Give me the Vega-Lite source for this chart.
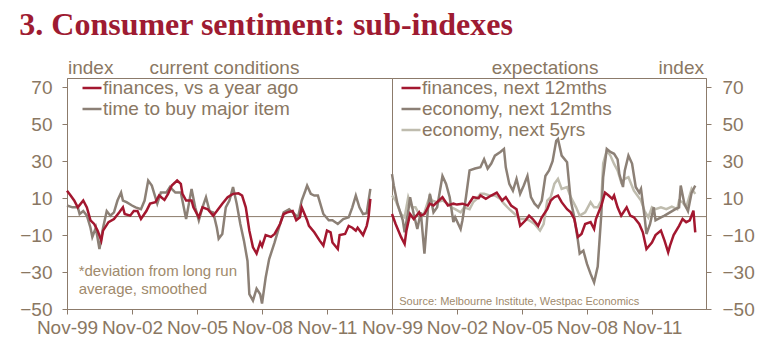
{
  "$schema": "https://vega.github.io/schema/vega-lite/v6.json",
  "padding": {"left": 19, "top": 9, "right": 5, "bottom": 5},
  "background": "white",
  "title": {"text": "3. Consumer sentiment: sub-indexes", "anchor": "start", "font": "Liberation Serif", "fontSize": 32, "fontWeight": "bold", "color": "#9e1b32", "offset": 16},
  "config": {
    "view": {"stroke": "#8c7b6b", "strokeWidth": 1},
    "font": "Liberation Sans",
    "axis": {"grid": false, "domainColor": "#8c7b6b", "tickColor": "#8c7b6b", "labelColor": "#8a7762", "labelFontSize": 19, "labelFont": "Liberation Sans", "tickSize": 5, "labelOverlap": false, "labelFlush": false, "labelBound": false},
    "legend": {"labelFont": "Liberation Sans"},
    "text": {"font": "Liberation Sans"}
  },
  "datasets": {
    "left": [
      {"d":"1999-11","s":"time to buy major item","v":6},{"d":"2000-02","s":"time to buy major item","v":5},{"d":"2000-05","s":"time to buy major item","v":5},{"d":"2000-06","s":"time to buy major item","v":1.4},{"d":"2000-08","s":"time to buy major item","v":3},{"d":"2000-10","s":"time to buy major item","v":0.5},{"d":"2000-12","s":"time to buy major item","v":-6},{"d":"2001-01","s":"time to buy major item","v":-11},{"d":"2001-03","s":"time to buy major item","v":-6},{"d":"2001-05","s":"time to buy major item","v":-17.5},{"d":"2001-07","s":"time to buy major item","v":-6},{"d":"2001-09","s":"time to buy major item","v":3},{"d":"2001-11","s":"time to buy major item","v":0.5},{"d":"2002-01","s":"time to buy major item","v":2.3},{"d":"2002-03","s":"time to buy major item","v":8.7},{"d":"2002-05","s":"time to buy major item","v":13},{"d":"2002-06","s":"time to buy major item","v":8.7},{"d":"2002-08","s":"time to buy major item","v":7.8},{"d":"2002-11","s":"time to buy major item","v":6},{"d":"2003-01","s":"time to buy major item","v":5},{"d":"2003-04","s":"time to buy major item","v":4},{"d":"2003-06","s":"time to buy major item","v":8.7},{"d":"2003-08","s":"time to buy major item","v":19.5},{"d":"2003-10","s":"time to buy major item","v":16.8},{"d":"2004-01","s":"time to buy major item","v":7},{"d":"2004-03","s":"time to buy major item","v":13},{"d":"2004-06","s":"time to buy major item","v":13},{"d":"2004-08","s":"time to buy major item","v":16},{"d":"2004-11","s":"time to buy major item","v":13},{"d":"2005-02","s":"time to buy major item","v":13},{"d":"2005-05","s":"time to buy major item","v":-1.3},{"d":"2005-08","s":"time to buy major item","v":15},{"d":"2005-10","s":"time to buy major item","v":5},{"d":"2005-12","s":"time to buy major item","v":-2},{"d":"2006-02","s":"time to buy major item","v":5},{"d":"2006-04","s":"time to buy major item","v":10.5},{"d":"2006-06","s":"time to buy major item","v":3},{"d":"2006-08","s":"time to buy major item","v":2.3},{"d":"2006-10","s":"time to buy major item","v":-6},{"d":"2006-11","s":"time to buy major item","v":-12},{"d":"2007-01","s":"time to buy major item","v":-9.4},{"d":"2007-03","s":"time to buy major item","v":5},{"d":"2007-05","s":"time to buy major item","v":8.7},{"d":"2007-07","s":"time to buy major item","v":16},{"d":"2007-09","s":"time to buy major item","v":7},{"d":"2007-11","s":"time to buy major item","v":-4},{"d":"2008-01","s":"time to buy major item","v":-13},{"d":"2008-03","s":"time to buy major item","v":-24},{"d":"2008-04","s":"time to buy major item","v":-42},{"d":"2008-06","s":"time to buy major item","v":-45.5},{"d":"2008-08","s":"time to buy major item","v":-39},{"d":"2008-10","s":"time to buy major item","v":-42},{"d":"2008-11","s":"time to buy major item","v":-47},{"d":"2009-01","s":"time to buy major item","v":-33},{"d":"2009-03","s":"time to buy major item","v":-23},{"d":"2009-06","s":"time to buy major item","v":-14},{"d":"2009-09","s":"time to buy major item","v":-4},{"d":"2009-11","s":"time to buy major item","v":2.3},{"d":"2010-02","s":"time to buy major item","v":4},{"d":"2010-05","s":"time to buy major item","v":1.4},{"d":"2010-07","s":"time to buy major item","v":-0.4},{"d":"2010-09","s":"time to buy major item","v":8.7},{"d":"2010-11","s":"time to buy major item","v":14},{"d":"2010-12","s":"time to buy major item","v":16.8},{"d":"2011-02","s":"time to buy major item","v":12.3},{"d":"2011-04","s":"time to buy major item","v":11.4},{"d":"2011-06","s":"time to buy major item","v":11.4},{"d":"2011-09","s":"time to buy major item","v":1.4},{"d":"2011-12","s":"time to buy major item","v":-2},{"d":"2012-02","s":"time to buy major item","v":-2},{"d":"2012-05","s":"time to buy major item","v":-4},{"d":"2012-08","s":"time to buy major item","v":-1.3},{"d":"2012-11","s":"time to buy major item","v":-0.4},{"d":"2013-01","s":"time to buy major item","v":5},{"d":"2013-03","s":"time to buy major item","v":11.4},{"d":"2013-05","s":"time to buy major item","v":5},{"d":"2013-07","s":"time to buy major item","v":1.4},{"d":"2013-09","s":"time to buy major item","v":1.8},{"d":"2013-11","s":"time to buy major item","v":15},
      {"d":"1999-11","s":"finances, vs a year ago","v":14},{"d":"2000-01","s":"finances, vs a year ago","v":11.4},{"d":"2000-03","s":"finances, vs a year ago","v":8.7},{"d":"2000-05","s":"finances, vs a year ago","v":5},{"d":"2000-08","s":"finances, vs a year ago","v":8.7},{"d":"2000-10","s":"finances, vs a year ago","v":5},{"d":"2000-12","s":"finances, vs a year ago","v":-2},{"d":"2001-02","s":"finances, vs a year ago","v":-4},{"d":"2001-04","s":"finances, vs a year ago","v":-7.6},{"d":"2001-06","s":"finances, vs a year ago","v":-13},{"d":"2001-07","s":"finances, vs a year ago","v":-7.6},{"d":"2001-10","s":"finances, vs a year ago","v":-3},{"d":"2002-01","s":"finances, vs a year ago","v":-1.3},{"d":"2002-04","s":"finances, vs a year ago","v":2.3},{"d":"2002-06","s":"finances, vs a year ago","v":5},{"d":"2002-07","s":"finances, vs a year ago","v":1.4},{"d":"2002-10","s":"finances, vs a year ago","v":0.5},{"d":"2002-12","s":"finances, vs a year ago","v":3},{"d":"2003-02","s":"finances, vs a year ago","v":3},{"d":"2003-04","s":"finances, vs a year ago","v":-1.3},{"d":"2003-07","s":"finances, vs a year ago","v":3},{"d":"2003-09","s":"finances, vs a year ago","v":7},{"d":"2003-12","s":"finances, vs a year ago","v":7.8},{"d":"2004-02","s":"finances, vs a year ago","v":11.4},{"d":"2004-05","s":"finances, vs a year ago","v":9},{"d":"2004-07","s":"finances, vs a year ago","v":12.3},{"d":"2004-09","s":"finances, vs a year ago","v":16.8},{"d":"2004-12","s":"finances, vs a year ago","v":19.5},{"d":"2005-02","s":"finances, vs a year ago","v":17.7},{"d":"2005-03","s":"finances, vs a year ago","v":12.3},{"d":"2005-05","s":"finances, vs a year ago","v":8.7},{"d":"2005-08","s":"finances, vs a year ago","v":8.7},{"d":"2005-09","s":"finances, vs a year ago","v":5},{"d":"2005-12","s":"finances, vs a year ago","v":-0.4},{"d":"2006-02","s":"finances, vs a year ago","v":5},{"d":"2006-05","s":"finances, vs a year ago","v":4},{"d":"2006-08","s":"finances, vs a year ago","v":0.5},{"d":"2006-10","s":"finances, vs a year ago","v":3},{"d":"2007-01","s":"finances, vs a year ago","v":7},{"d":"2007-04","s":"finances, vs a year ago","v":10.5},{"d":"2007-07","s":"finances, vs a year ago","v":12.3},{"d":"2007-10","s":"finances, vs a year ago","v":12.6},{"d":"2007-12","s":"finances, vs a year ago","v":11.4},{"d":"2008-02","s":"finances, vs a year ago","v":5},{"d":"2008-04","s":"finances, vs a year ago","v":-7.6},{"d":"2008-06","s":"finances, vs a year ago","v":-16.6},{"d":"2008-08","s":"finances, vs a year ago","v":-20},{"d":"2008-10","s":"finances, vs a year ago","v":-14},{"d":"2008-11","s":"finances, vs a year ago","v":-16},{"d":"2009-01","s":"finances, vs a year ago","v":-10},{"d":"2009-04","s":"finances, vs a year ago","v":-11},{"d":"2009-06","s":"finances, vs a year ago","v":-9.4},{"d":"2009-09","s":"finances, vs a year ago","v":-4},{"d":"2009-11","s":"finances, vs a year ago","v":1.4},{"d":"2010-01","s":"finances, vs a year ago","v":2.3},{"d":"2010-04","s":"finances, vs a year ago","v":3},{"d":"2010-06","s":"finances, vs a year ago","v":-2},{"d":"2010-08","s":"finances, vs a year ago","v":-0.4},{"d":"2010-09","s":"finances, vs a year ago","v":5},{"d":"2010-12","s":"finances, vs a year ago","v":-2},{"d":"2011-01","s":"finances, vs a year ago","v":-5},{"d":"2011-04","s":"finances, vs a year ago","v":-8.5},{"d":"2011-07","s":"finances, vs a year ago","v":-13},{"d":"2011-09","s":"finances, vs a year ago","v":-15.7},{"d":"2011-11","s":"finances, vs a year ago","v":-7.6},{"d":"2012-01","s":"finances, vs a year ago","v":-8.5},{"d":"2012-02","s":"finances, vs a year ago","v":-14},{"d":"2012-05","s":"finances, vs a year ago","v":-17.5},{"d":"2012-06","s":"finances, vs a year ago","v":-10},{"d":"2012-09","s":"finances, vs a year ago","v":-9.4},{"d":"2012-11","s":"finances, vs a year ago","v":-5},{"d":"2013-01","s":"finances, vs a year ago","v":-6},{"d":"2013-03","s":"finances, vs a year ago","v":-7.6},{"d":"2013-04","s":"finances, vs a year ago","v":-6},{"d":"2013-07","s":"finances, vs a year ago","v":-10},{"d":"2013-09","s":"finances, vs a year ago","v":-5},{"d":"2013-10","s":"finances, vs a year ago","v":-0.4},{"d":"2013-11","s":"finances, vs a year ago","v":9.6}
    ],
    "right": [
      {"d":"1999-11","s":"economy, next 5yrs","v":11.4},{"d":"2000-01","s":"economy, next 5yrs","v":8.7},{"d":"2000-04","s":"economy, next 5yrs","v":1.4},{"d":"2000-06","s":"economy, next 5yrs","v":-0.4},{"d":"2000-08","s":"economy, next 5yrs","v":10.5},{"d":"2000-10","s":"economy, next 5yrs","v":5},{"d":"2000-12","s":"economy, next 5yrs","v":5},{"d":"2001-03","s":"economy, next 5yrs","v":-0.4},{"d":"2001-05","s":"economy, next 5yrs","v":2.3},{"d":"2001-08","s":"economy, next 5yrs","v":11.4},{"d":"2001-09","s":"economy, next 5yrs","v":8.7},{"d":"2001-12","s":"economy, next 5yrs","v":7.8},{"d":"2002-03","s":"economy, next 5yrs","v":8.7},{"d":"2002-06","s":"economy, next 5yrs","v":7},{"d":"2002-08","s":"economy, next 5yrs","v":5},{"d":"2002-10","s":"economy, next 5yrs","v":4},{"d":"2003-01","s":"economy, next 5yrs","v":2.3},{"d":"2003-03","s":"economy, next 5yrs","v":5},{"d":"2003-06","s":"economy, next 5yrs","v":4},{"d":"2003-08","s":"economy, next 5yrs","v":7.8},{"d":"2003-10","s":"economy, next 5yrs","v":9.6},{"d":"2003-12","s":"economy, next 5yrs","v":12.3},{"d":"2004-02","s":"economy, next 5yrs","v":12.3},{"d":"2004-05","s":"economy, next 5yrs","v":11.4},{"d":"2004-08","s":"economy, next 5yrs","v":11.4},{"d":"2004-11","s":"economy, next 5yrs","v":9.6},{"d":"2005-01","s":"economy, next 5yrs","v":7},{"d":"2005-04","s":"economy, next 5yrs","v":4},{"d":"2005-07","s":"economy, next 5yrs","v":1.4},{"d":"2005-10","s":"economy, next 5yrs","v":-1.3},{"d":"2006-01","s":"economy, next 5yrs","v":-1.3},{"d":"2006-03","s":"economy, next 5yrs","v":-2},{"d":"2006-06","s":"economy, next 5yrs","v":-4},{"d":"2006-09","s":"economy, next 5yrs","v":-7.6},{"d":"2006-11","s":"economy, next 5yrs","v":-4},{"d":"2007-01","s":"economy, next 5yrs","v":8.7},{"d":"2007-03","s":"economy, next 5yrs","v":10.5},{"d":"2007-05","s":"economy, next 5yrs","v":17.7},{"d":"2007-07","s":"economy, next 5yrs","v":20.4},{"d":"2007-09","s":"economy, next 5yrs","v":15},{"d":"2007-12","s":"economy, next 5yrs","v":16},{"d":"2008-02","s":"economy, next 5yrs","v":10.5},{"d":"2008-05","s":"economy, next 5yrs","v":5},{"d":"2008-07","s":"economy, next 5yrs","v":0.5},{"d":"2008-10","s":"economy, next 5yrs","v":2.3},{"d":"2009-01","s":"economy, next 5yrs","v":7.8},{"d":"2009-03","s":"economy, next 5yrs","v":5},{"d":"2009-05","s":"economy, next 5yrs","v":5},{"d":"2009-07","s":"economy, next 5yrs","v":8.7},{"d":"2009-08","s":"economy, next 5yrs","v":28.7},{"d":"2009-10","s":"economy, next 5yrs","v":35.7},{"d":"2009-12","s":"economy, next 5yrs","v":33},{"d":"2010-02","s":"economy, next 5yrs","v":28.5},{"d":"2010-04","s":"economy, next 5yrs","v":25},{"d":"2010-06","s":"economy, next 5yrs","v":18.6},{"d":"2010-08","s":"economy, next 5yrs","v":20.4},{"d":"2010-10","s":"economy, next 5yrs","v":21.3},{"d":"2011-01","s":"economy, next 5yrs","v":14},{"d":"2011-03","s":"economy, next 5yrs","v":11.4},{"d":"2011-05","s":"economy, next 5yrs","v":8.7},{"d":"2011-07","s":"economy, next 5yrs","v":3},{"d":"2011-09","s":"economy, next 5yrs","v":-0.4},{"d":"2011-11","s":"economy, next 5yrs","v":5},{"d":"2012-01","s":"economy, next 5yrs","v":4},{"d":"2012-04","s":"economy, next 5yrs","v":5},{"d":"2012-07","s":"economy, next 5yrs","v":4},{"d":"2012-10","s":"economy, next 5yrs","v":5.4},{"d":"2013-01","s":"economy, next 5yrs","v":4},{"d":"2013-02","s":"economy, next 5yrs","v":8.7},{"d":"2013-04","s":"economy, next 5yrs","v":7.8},{"d":"2013-06","s":"economy, next 5yrs","v":5},{"d":"2013-09","s":"economy, next 5yrs","v":15},{"d":"2013-11","s":"economy, next 5yrs","v":12.3},
      {"d":"1999-11","s":"economy, next 12mths","v":23},{"d":"1999-12","s":"economy, next 12mths","v":16.8},{"d":"2000-02","s":"economy, next 12mths","v":7},{"d":"2000-05","s":"economy, next 12mths","v":-2},{"d":"2000-06","s":"economy, next 12mths","v":-8.5},{"d":"2000-08","s":"economy, next 12mths","v":3},{"d":"2000-09","s":"economy, next 12mths","v":10.5},{"d":"2000-11","s":"economy, next 12mths","v":1.4},{"d":"2001-01","s":"economy, next 12mths","v":-6.7},{"d":"2001-03","s":"economy, next 12mths","v":2.3},{"d":"2001-05","s":"economy, next 12mths","v":-20},{"d":"2001-07","s":"economy, next 12mths","v":5},{"d":"2001-08","s":"economy, next 12mths","v":12.3},{"d":"2001-10","s":"economy, next 12mths","v":2.3},{"d":"2001-12","s":"economy, next 12mths","v":5},{"d":"2002-03","s":"economy, next 12mths","v":22},{"d":"2002-05","s":"economy, next 12mths","v":17.7},{"d":"2002-07","s":"economy, next 12mths","v":10.5},{"d":"2002-09","s":"economy, next 12mths","v":-3},{"d":"2002-10","s":"economy, next 12mths","v":-0.4},{"d":"2003-01","s":"economy, next 12mths","v":-6.7},{"d":"2003-02","s":"economy, next 12mths","v":-2},{"d":"2003-04","s":"economy, next 12mths","v":10.5},{"d":"2003-06","s":"economy, next 12mths","v":25},{"d":"2003-09","s":"economy, next 12mths","v":26},{"d":"2003-12","s":"economy, next 12mths","v":26.7},{"d":"2004-02","s":"economy, next 12mths","v":31},{"d":"2004-04","s":"economy, next 12mths","v":26},{"d":"2004-06","s":"economy, next 12mths","v":28.7},{"d":"2004-08","s":"economy, next 12mths","v":33},{"d":"2004-11","s":"economy, next 12mths","v":35},{"d":"2005-01","s":"economy, next 12mths","v":36.6},{"d":"2005-02","s":"economy, next 12mths","v":26.7},{"d":"2005-04","s":"economy, next 12mths","v":17.7},{"d":"2005-06","s":"economy, next 12mths","v":14},{"d":"2005-08","s":"economy, next 12mths","v":20.4},{"d":"2005-10","s":"economy, next 12mths","v":12.3},{"d":"2005-12","s":"economy, next 12mths","v":16.8},{"d":"2006-02","s":"economy, next 12mths","v":22},{"d":"2006-04","s":"economy, next 12mths","v":10.5},{"d":"2006-06","s":"economy, next 12mths","v":7},{"d":"2006-08","s":"economy, next 12mths","v":5},{"d":"2006-10","s":"economy, next 12mths","v":8.7},{"d":"2006-12","s":"economy, next 12mths","v":22},{"d":"2007-02","s":"economy, next 12mths","v":25},{"d":"2007-04","s":"economy, next 12mths","v":30},{"d":"2007-06","s":"economy, next 12mths","v":41},{"d":"2007-07","s":"economy, next 12mths","v":42},{"d":"2007-09","s":"economy, next 12mths","v":33},{"d":"2007-12","s":"economy, next 12mths","v":29.4},{"d":"2008-02","s":"economy, next 12mths","v":8.7},{"d":"2008-04","s":"economy, next 12mths","v":-0.4},{"d":"2008-06","s":"economy, next 12mths","v":-13},{"d":"2008-07","s":"economy, next 12mths","v":-20},{"d":"2008-09","s":"economy, next 12mths","v":-18.4},{"d":"2008-11","s":"economy, next 12mths","v":-25.6},{"d":"2009-01","s":"economy, next 12mths","v":-31},{"d":"2009-03","s":"economy, next 12mths","v":-35.6},{"d":"2009-05","s":"economy, next 12mths","v":-27},{"d":"2009-07","s":"economy, next 12mths","v":1.4},{"d":"2009-08","s":"economy, next 12mths","v":21.3},{"d":"2009-10","s":"economy, next 12mths","v":36.6},{"d":"2009-12","s":"economy, next 12mths","v":35},{"d":"2010-02","s":"economy, next 12mths","v":34},{"d":"2010-04","s":"economy, next 12mths","v":31},{"d":"2010-05","s":"economy, next 12mths","v":23},{"d":"2010-07","s":"economy, next 12mths","v":16},{"d":"2010-08","s":"economy, next 12mths","v":25},{"d":"2010-10","s":"economy, next 12mths","v":33},{"d":"2010-12","s":"economy, next 12mths","v":28.7},{"d":"2011-02","s":"economy, next 12mths","v":16},{"d":"2011-04","s":"economy, next 12mths","v":13},{"d":"2011-05","s":"economy, next 12mths","v":15},{"d":"2011-07","s":"economy, next 12mths","v":-0.4},{"d":"2011-08","s":"economy, next 12mths","v":-9.4},{"d":"2011-10","s":"economy, next 12mths","v":-4},{"d":"2011-12","s":"economy, next 12mths","v":5},{"d":"2012-01","s":"economy, next 12mths","v":-2},{"d":"2012-04","s":"economy, next 12mths","v":-0.4},{"d":"2012-06","s":"economy, next 12mths","v":0.5},{"d":"2012-09","s":"economy, next 12mths","v":2.3},{"d":"2012-12","s":"economy, next 12mths","v":4},{"d":"2013-02","s":"economy, next 12mths","v":5},{"d":"2013-03","s":"economy, next 12mths","v":16.8},{"d":"2013-05","s":"economy, next 12mths","v":7},{"d":"2013-07","s":"economy, next 12mths","v":3},{"d":"2013-09","s":"economy, next 12mths","v":13},{"d":"2013-11","s":"economy, next 12mths","v":16.8},
      {"d":"1999-11","s":"finances, next 12mths","v":1.4},{"d":"2000-01","s":"finances, next 12mths","v":-4},{"d":"2000-04","s":"finances, next 12mths","v":-11},{"d":"2000-06","s":"finances, next 12mths","v":-14.8},{"d":"2000-07","s":"finances, next 12mths","v":-7.6},{"d":"2000-09","s":"finances, next 12mths","v":1.4},{"d":"2000-11","s":"finances, next 12mths","v":-1.3},{"d":"2001-02","s":"finances, next 12mths","v":2.3},{"d":"2001-03","s":"finances, next 12mths","v":0.5},{"d":"2001-05","s":"finances, next 12mths","v":1.4},{"d":"2001-08","s":"finances, next 12mths","v":7},{"d":"2001-10","s":"finances, next 12mths","v":6},{"d":"2002-01","s":"finances, next 12mths","v":8.7},{"d":"2002-03","s":"finances, next 12mths","v":10.5},{"d":"2002-06","s":"finances, next 12mths","v":6},{"d":"2002-09","s":"finances, next 12mths","v":7},{"d":"2002-11","s":"finances, next 12mths","v":6.5},{"d":"2003-02","s":"finances, next 12mths","v":7},{"d":"2003-05","s":"finances, next 12mths","v":6},{"d":"2003-08","s":"finances, next 12mths","v":10.5},{"d":"2003-11","s":"finances, next 12mths","v":10},{"d":"2003-12","s":"finances, next 12mths","v":11.4},{"d":"2004-03","s":"finances, next 12mths","v":9.6},{"d":"2004-06","s":"finances, next 12mths","v":11.4},{"d":"2004-09","s":"finances, next 12mths","v":13},{"d":"2004-12","s":"finances, next 12mths","v":8.7},{"d":"2005-02","s":"finances, next 12mths","v":10.5},{"d":"2005-05","s":"finances, next 12mths","v":6},{"d":"2005-08","s":"finances, next 12mths","v":4},{"d":"2005-10","s":"finances, next 12mths","v":-5},{"d":"2006-01","s":"finances, next 12mths","v":-2},{"d":"2006-03","s":"finances, next 12mths","v":0.5},{"d":"2006-05","s":"finances, next 12mths","v":-1.3},{"d":"2006-08","s":"finances, next 12mths","v":-5},{"d":"2006-10","s":"finances, next 12mths","v":-0.4},{"d":"2007-01","s":"finances, next 12mths","v":4},{"d":"2007-03","s":"finances, next 12mths","v":8.7},{"d":"2007-05","s":"finances, next 12mths","v":10.5},{"d":"2007-07","s":"finances, next 12mths","v":11.4},{"d":"2007-09","s":"finances, next 12mths","v":7.8},{"d":"2007-12","s":"finances, next 12mths","v":4},{"d":"2008-02","s":"finances, next 12mths","v":2.3},{"d":"2008-04","s":"finances, next 12mths","v":-1.3},{"d":"2008-06","s":"finances, next 12mths","v":-11},{"d":"2008-08","s":"finances, next 12mths","v":-9.4},{"d":"2008-10","s":"finances, next 12mths","v":-4},{"d":"2009-01","s":"finances, next 12mths","v":-3},{"d":"2009-03","s":"finances, next 12mths","v":-6.7},{"d":"2009-04","s":"finances, next 12mths","v":-1.3},{"d":"2009-07","s":"finances, next 12mths","v":6},{"d":"2009-09","s":"finances, next 12mths","v":13},{"d":"2009-11","s":"finances, next 12mths","v":11.4},{"d":"2010-01","s":"finances, next 12mths","v":9.6},{"d":"2010-02","s":"finances, next 12mths","v":11.4},{"d":"2010-04","s":"finances, next 12mths","v":5},{"d":"2010-06","s":"finances, next 12mths","v":0.5},{"d":"2010-09","s":"finances, next 12mths","v":5},{"d":"2010-11","s":"finances, next 12mths","v":0.5},{"d":"2011-01","s":"finances, next 12mths","v":-0.4},{"d":"2011-04","s":"finances, next 12mths","v":-4},{"d":"2011-06","s":"finances, next 12mths","v":-8.5},{"d":"2011-08","s":"finances, next 12mths","v":-17.5},{"d":"2011-11","s":"finances, next 12mths","v":-14},{"d":"2012-01","s":"finances, next 12mths","v":-10},{"d":"2012-04","s":"finances, next 12mths","v":-7.6},{"d":"2012-06","s":"finances, next 12mths","v":-13},{"d":"2012-08","s":"finances, next 12mths","v":-19.3},{"d":"2012-09","s":"finances, next 12mths","v":-15.7},{"d":"2012-11","s":"finances, next 12mths","v":-10},{"d":"2013-02","s":"finances, next 12mths","v":-5},{"d":"2013-04","s":"finances, next 12mths","v":-1.3},{"d":"2013-06","s":"finances, next 12mths","v":-3},{"d":"2013-08","s":"finances, next 12mths","v":-2},{"d":"2013-10","s":"finances, next 12mths","v":3.2},{"d":"2013-11","s":"finances, next 12mths","v":-8.5}
    ],
    "labelsL": [{"t": "index", "k": "index"}, {"t": "current conditions", "k": "panel"}],
    "labelsR": [{"t": "index", "k": "index"}, {"t": "expectations", "k": "panel"}]
  },
  "hconcat": [
    {
      "width": 325,
      "height": 231,
      "layer": [
        {
          "data": {"values": [{"z": 0}]},
          "mark": {"type": "rule", "color": "#8c7b6b", "strokeWidth": 1},
          "encoding": {"y": {"field": "z", "type": "quantitative"}}
        },
        {
          "data": {"name": "left"},
          "mark": {"type": "line", "strokeWidth": 2.5},
          "encoding": {
            "x": {"field": "d", "type": "temporal", "scale": {"type": "utc", "domain": [{"year": 1999, "month": 11, "date": 1, "utc": true}, {"year": 2014, "month": 11, "date": 1, "utc": true}]}, "axis": {"title": null, "format": "%b-%y", "labelPadding": 4, "tickCount": 10, "labelOverlap": false, "labelFlush": false, "values": [{"year": 1999, "month": 11, "date": 1, "utc": true}, {"year": 2002, "month": 11, "date": 1, "utc": true}, {"year": 2005, "month": 11, "date": 1, "utc": true}, {"year": 2008, "month": 11, "date": 1, "utc": true}, {"year": 2011, "month": 11, "date": 1, "utc": true}]}},
            "y": {"field": "v", "type": "quantitative", "scale": {"domain": [-50, 75], "nice": false, "zero": false}, "axis": {"values": [-50, -30, -10, 10, 30, 50, 70], "tickCount": 10, "title": null, "labelPadding": 10, "labelOverlap": false, "labelFlush": false, "labelBound": false}},
            "color": {"field": "s", "type": "nominal", "scale": {"domain": ["finances, vs a year ago", "time to buy major item"], "range": ["#a3172f", "#8c8076"]}, "legend": {"orient": "none", "legendX": 14, "legendY": -1, "title": null, "padding": 0, "symbolType": "stroke", "symbolSize": 361, "symbolStrokeWidth": 2.5, "labelFontSize": 19, "labelColor": "#8a7762", "labelOffset": 0, "labelLimit": 400, "rowPadding": 0}}
          }
        },
        {
          "data": {"values": [{"note": "*deviation from long run\naverage, smoothed"}]},
          "mark": {"type": "text", "align": "left", "baseline": "alphabetic", "fontSize": 15, "lineBreak": "\n", "lineHeight": 18, "color": "#a08a6c"},
          "encoding": {
            "text": {"field": "note"},
            "x": {"datum": {"year": 2000, "month": 5, "date": 15, "utc": true}, "type": "temporal"},
            "y": {"datum": -32}
          }
        },
        {
          "data": {"name": "labelsL"},
          "transform": [{"filter": "datum.k === 'index'"}],
          "mark": {"type": "text", "align": "left", "baseline": "alphabetic", "fontSize": 19, "color": "#8a7762", "dx": 1},
          "encoding": {
            "text": {"field": "t"},
            "x": {"datum": {"year": 1999, "month": 11, "date": 1, "utc": true}, "type": "temporal"},
            "y": {"datum": 77.3}
          }
        },
        {
          "data": {"name": "labelsL"},
          "transform": [{"filter": "datum.k === 'panel'"}],
          "mark": {"type": "text", "align": "center", "baseline": "alphabetic", "fontSize": 19, "color": "#8a7762", "dx": -5},
          "encoding": {
            "text": {"field": "t"},
            "x": {"datum": {"year": 2007, "month": 5, "date": 1, "utc": true}, "type": "temporal"},
            "y": {"datum": 77.3}
          }
        }
      ]
    },
    {
      "width": 314,
      "height": 231,
      "layer": [
        {
          "data": {"values": [{"z": 0}]},
          "mark": {"type": "rule", "color": "#8c7b6b", "strokeWidth": 1},
          "encoding": {"y": {"field": "z", "type": "quantitative"}}
        },
        {
          "data": {"name": "right"},
          "mark": {"type": "line", "strokeWidth": 2.5},
          "encoding": {
            "x": {"field": "d", "type": "temporal", "scale": {"type": "utc", "domain": [{"year": 1999, "month": 11, "date": 1, "utc": true}, {"year": 2014, "month": 5, "date": 1, "utc": true}]}, "axis": {"title": null, "format": "%b-%y", "labelPadding": 4, "tickCount": 10, "labelOverlap": false, "labelFlush": false, "values": [{"year": 1999, "month": 11, "date": 1, "utc": true}, {"year": 2002, "month": 11, "date": 1, "utc": true}, {"year": 2005, "month": 11, "date": 1, "utc": true}, {"year": 2008, "month": 11, "date": 1, "utc": true}, {"year": 2011, "month": 11, "date": 1, "utc": true}]}},
            "y": {"field": "v", "type": "quantitative", "scale": {"domain": [-50, 75], "nice": false, "zero": false}, "axis": {"orient": "right", "values": [-50, -30, -10, 10, 30, 50, 70], "tickCount": 10, "title": null, "labelPadding": 11, "labelOverlap": false, "labelFlush": false, "labelBound": false}},
            "color": {"field": "s", "type": "nominal", "scale": {"domain": ["finances, next 12mths", "economy, next 12mths", "economy, next 5yrs"], "range": ["#a3172f", "#8c8076", "#bfbcae"]}, "legend": {"orient": "none", "legendX": 8, "legendY": -1, "title": null, "padding": 0, "symbolType": "stroke", "symbolSize": 361, "symbolStrokeWidth": 2.5, "labelFontSize": 19, "labelColor": "#8a7762", "labelOffset": 0, "labelLimit": 400, "rowPadding": -0.5}}
          }
        },
        {
          "data": {"values": [{"note": "Source: Melbourne Institute, Westpac Economics"}]},
          "mark": {"type": "text", "align": "left", "baseline": "alphabetic", "fontSize": 11, "color": "#a08a6c"},
          "encoding": {
            "text": {"field": "note"},
            "x": {"datum": {"year": 2000, "month": 3, "date": 1, "utc": true}, "type": "temporal"},
            "y": {"datum": -47.7}
          }
        },
        {
          "data": {"name": "labelsR"},
          "transform": [{"filter": "datum.k === 'index'"}],
          "mark": {"type": "text", "align": "right", "baseline": "alphabetic", "fontSize": 19, "color": "#8a7762", "dx": -2},
          "encoding": {
            "text": {"field": "t"},
            "x": {"datum": {"year": 2014, "month": 5, "date": 1, "utc": true}, "type": "temporal"},
            "y": {"datum": 77.3}
          }
        },
        {
          "data": {"name": "labelsR"},
          "transform": [{"filter": "datum.k === 'panel'"}],
          "mark": {"type": "text", "align": "center", "baseline": "alphabetic", "fontSize": 19, "color": "#8a7762", "dx": -4},
          "encoding": {
            "text": {"field": "t"},
            "x": {"datum": {"year": 2007, "month": 2, "date": 1, "utc": true}, "type": "temporal"},
            "y": {"datum": 77.3}
          }
        }
      ]
    }
  ],
  "spacing": 0,
  "bounds": "flush",
  "resolve": {"scale": {"color": "independent", "x": "independent", "y": "independent"}, "legend": {"color": "independent"}}
}
